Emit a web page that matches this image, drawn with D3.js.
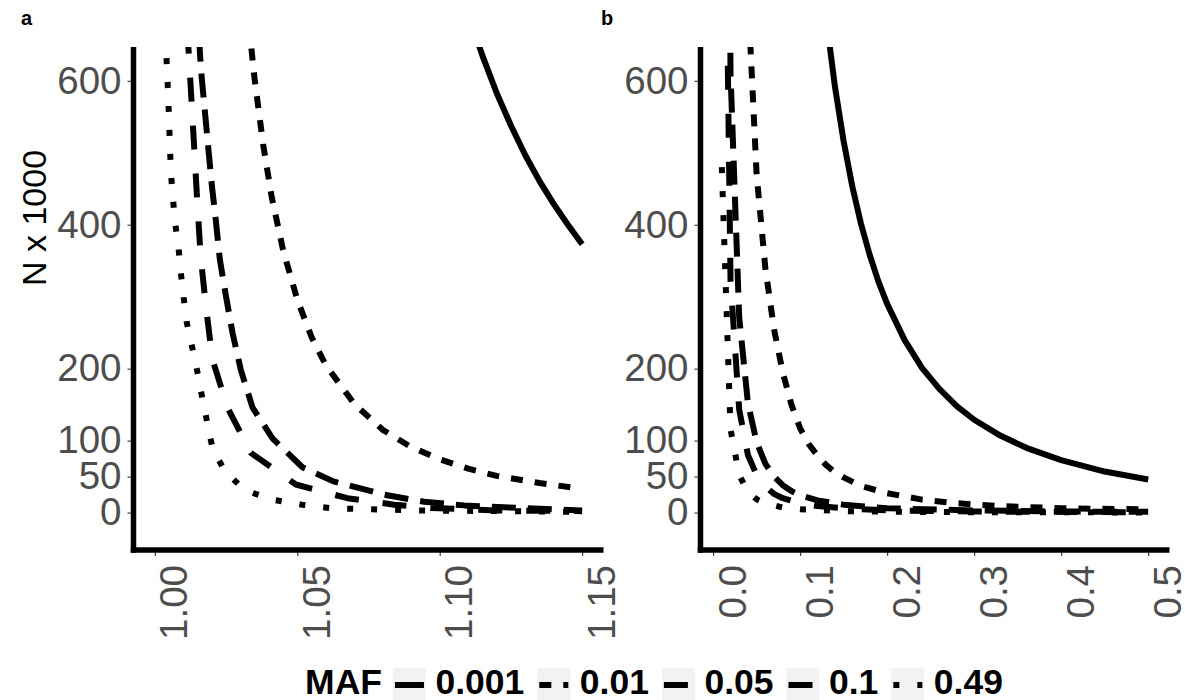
<!DOCTYPE html>
<html>
<head>
<meta charset="utf-8">
<script src="https://cdn.jsdelivr.net/npm/d3@7"></script>
<style>
  body { margin: 0; background: #fff; }
  svg { display: block; font-family: "Liberation Sans", Arial, sans-serif; }
</style>
</head>
<body>
<div id="chart"></div>
<script>
// MAF levels, same order as the legend
var mafs = ["0.001", "0.01", "0.05", "0.1", "0.49"]
// ggplot default linetypes (solid, 22, 42, 44, 13) scaled by line width
var dashes = ["none", "12,12", "24,12", "24,24", "6,18"]

var yTicks = [0, 50, 100, 200, 400, 600]
var xTicksA = [1.00, 1.05, 1.10, 1.15]
var xTicksB = [0.0, 0.1, 0.2, 0.3, 0.4, 0.5]

// panel a : odds ratio -> N x 1000
var orA001 = [1.110, 1.115, 1.120, 1.125, 1.130, 1.135, 1.140, 1.145, 1.150]
var nA001  = [694, 635, 583, 538, 497, 461, 429, 400, 373]
var orA01 = [1.033, 1.035, 1.038, 1.041, 1.045, 1.050, 1.055, 1.060, 1.070, 1.080, 1.090, 1.100, 1.110, 1.120, 1.135, 1.150]
var nA01  = [678, 603, 512, 439, 365, 296, 244, 205, 151, 115, 91, 74, 61, 51, 41, 33]
var orA05 = [1.0155, 1.0162, 1.0175, 1.0188, 1.0200, 1.0214, 1.0228, 1.0250, 1.0273, 1.0302, 1.0343, 1.0413, 1.0518, 1.0629, 1.0805, 1.0945, 1.1085, 1.1300, 1.1500]
var nA05  = [660, 615, 560, 505, 455, 406, 352, 300, 249, 198, 146, 103, 63, 43, 25, 15, 10, 6, 3]
var orA1 = [1.0114, 1.0120, 1.0130, 1.0140, 1.0150, 1.0161, 1.0180, 1.0202, 1.0255, 1.0337, 1.0495, 1.0676, 1.0840, 1.0968, 1.1200, 1.1500]
var nA1  = [671, 631, 563, 494, 424, 355, 284, 213, 146, 83, 39, 20, 11, 6.5, 3, 2]
var orA49 = [1.0037, 1.0047, 1.0053, 1.0056, 1.0063, 1.0071, 1.0083, 1.0091, 1.0101, 1.0112, 1.0132, 1.0150, 1.0167, 1.0185, 1.0203, 1.0247, 1.0316, 1.0413, 1.0515, 1.0618, 1.0822, 1.0922, 1.1500]
var nA49  = [665, 578, 508, 474, 439, 403, 368, 334, 299, 264, 228, 194, 158, 123, 88, 57, 31, 18, 11, 6, 4, 3, 1]

// panel b : effect size -> N x 1000
var bB001 = [0.12, 0.13, 0.14, 0.15, 0.16, 0.17, 0.18, 0.19, 0.20, 0.22, 0.24, 0.26, 0.28, 0.30, 0.33, 0.36, 0.40, 0.45, 0.50]
var nB001 = [806, 686, 592, 516, 453, 401, 358, 321, 290, 240, 201, 172, 148, 129, 107, 90, 73, 57, 46]
var bB01 = [0.04, 0.05, 0.06, 0.07, 0.08, 0.09, 0.10, 0.11, 0.12, 0.13, 0.14, 0.15, 0.17, 0.20, 0.24, 0.28, 0.33, 0.40, 0.50]
var nB01 = [720, 470, 340, 255, 195, 150, 117, 95, 79, 66, 56, 49, 37, 27, 18, 13, 9, 6, 4.5]
var bB05 = [0.01, 0.02, 0.03, 0.04, 0.05, 0.06, 0.07, 0.08, 0.09, 0.10, 0.12, 0.15, 0.20, 0.30, 0.40, 0.50]
var nB05 = [2440, 610, 271, 152, 98, 68, 50, 38, 30, 24, 17, 11, 6, 3, 1.5, 1]
var bB1 = [0.01, 0.02, 0.03, 0.04, 0.05, 0.06, 0.07, 0.08, 0.10, 0.12, 0.15, 0.20, 0.30, 0.50]
var nB1 = [1288, 322, 143, 80, 52, 36, 26, 20, 13, 9, 6, 3, 1.5, 0.5]
var bB49 = [0.01, 0.02, 0.03, 0.04, 0.05, 0.06, 0.08, 0.10, 0.15, 0.20, 0.30, 0.50]
var nB49 = [480, 116, 52, 29, 18.5, 13, 7, 4.6, 2, 1.2, 0.5, 0.2]

var seriesA = [[orA001, nA001], [orA01, nA01], [orA05, nA05], [orA1, nA1], [orA49, nA49]]
var seriesB = [[bB001, nB001], [bB01, nB01], [bB05, nB05], [bB1, nB1], [bB49, nB49]]

var W = 1185, H = 700
var panelTop = 47, panelBottom = 550
var lineW = 6

var svg = d3.select("#chart").append("svg")
    .attr("width", W)
    .attr("height", H)

svg.append("rect").attr("width", W).attr("height", H).style("fill", "white")

var y = d3.scaleLinear().domain([-52, 647]).range([panelBottom, panelTop])
var xA = d3.scaleLinear().domain([0.9925, 1.1575]).range([133.5, 603.5])
var xB = d3.scaleLinear().domain([-0.0145, 0.5245]).range([700.5, 1169.5])

function drawPanel(id, x, series, ticks, fmt) {
    var left = x.range()[0], right = x.range()[1]
    var g = svg.append("g").attr("id", "panel-" + id)

    g.append("clipPath").attr("id", "clip-" + id)
        .append("rect")
        .attr("x", left).attr("y", panelTop)
        .attr("width", right - left).attr("height", panelBottom - panelTop)

    var line = d3.line()
        .x(function(d) { return x(d[0]) })
        .y(function(d) { return y(d[1]) })
        .curve(d3.curveLinear)

    var lines = g.append("g").attr("clip-path", "url(#clip-" + id + ")")
    series.forEach(function(s, i) {
        var pts = s[0].map(function(v, j) { return [v, s[1][j]] })
        lines.append("path")
            .attr("d", line(pts))
            .style("fill", "none")
            .style("stroke", "black")
            .style("stroke-width", lineW)
            .style("stroke-linecap", "butt")
            .style("stroke-linejoin", "round")
            .style("stroke-dasharray", dashes[i])
    })

    // y axis
    var ya = g.append("g")
        .attr("transform", "translate(" + left + ",0)")
        .call(d3.axisLeft(y).tickValues(yTicks).tickSize(6).tickPadding(6))
    ya.select(".domain").remove()
    ya.selectAll(".tick line").style("stroke", "#333").style("stroke-width", 1.1)
    ya.selectAll(".tick text")
        .style("font-size", "38.5px")
        .style("fill", "#4D4D4D")
        .style("font-family", "Liberation Sans, Arial, sans-serif")

    // x axis, labels turned 90 degrees
    var xa = g.append("g")
        .attr("transform", "translate(0," + panelBottom + ")")
        .call(d3.axisBottom(x).tickValues(ticks).tickFormat(fmt).tickSize(6))
    xa.select(".domain").remove()
    xa.selectAll(".tick line").style("stroke", "#333").style("stroke-width", 1.1)
    xa.selectAll(".tick text")
        .attr("transform", "rotate(-90)")
        .attr("text-anchor", "end")
        .attr("x", -15)
        .attr("y", 32)
        .attr("dy", 0)
        .style("font-size", "38.5px")
        .style("fill", "#4D4D4D")
        .style("font-family", "Liberation Sans, Arial, sans-serif")

    // thick axis lines
    g.append("line")
        .attr("x1", left).attr("x2", left)
        .attr("y1", panelTop).attr("y2", panelBottom + 2.75)
        .style("stroke", "black").style("stroke-width", 5.5)
    g.append("line")
        .attr("x1", left - 2.75).attr("x2", right)
        .attr("y1", panelBottom).attr("y2", panelBottom)
        .style("stroke", "black").style("stroke-width", 5.5)
}

drawPanel("a", xA, seriesA, xTicksA, function(v) { return v.toFixed(2) })
drawPanel("b", xB, seriesB, xTicksB, function(v) { return v.toFixed(1) })

// y title
svg.append("text")
    .attr("transform", "translate(46,218) rotate(-90)")
    .attr("text-anchor", "middle")
    .text("N x 1000")
    .style("font-size", "34px")
    .style("fill", "black")

// panel tags
var tags = [["a", 21], ["b", 601]]
tags.forEach(function(t) {
    svg.append("text")
        .attr("x", t[1]).attr("y", 25)
        .text(t[0])
        .style("font-size", "20px")
        .style("font-weight", "700")
})

// legend, centred under the two panels
var legFont = 35.5, keyW = 33, keyH = 36, keyTop = 668, baseY = 694
var leg = svg.append("g").attr("id", "legend")
var cx = 0
var title = leg.append("text").attr("x", cx).attr("y", baseY).text("MAF")
    .style("font-size", legFont + "px").style("font-weight", "700")
cx += title.node().getComputedTextLength() + 11
mafs.forEach(function(m, i) {
    leg.append("rect")
        .attr("x", cx).attr("y", keyTop)
        .attr("width", keyW).attr("height", keyH)
        .style("fill", "#F2F2F2")
    leg.append("line")
        .attr("x1", cx + 2).attr("x2", cx + keyW - 2)
        .attr("y1", keyTop + 17).attr("y2", keyTop + 17)
        .style("stroke", "black")
        .style("stroke-width", lineW)
        .style("stroke-dasharray", dashes[i])
    cx += keyW + 9.5
    var t = leg.append("text").attr("x", cx).attr("y", baseY).text(m)
        .style("font-size", legFont + "px").style("font-weight", "700")
    cx += t.node().getComputedTextLength() + 13
})
cx -= 13
leg.attr("transform", "translate(" + (654 - cx / 2) + ",0)")
</script>
</body>
</html>
